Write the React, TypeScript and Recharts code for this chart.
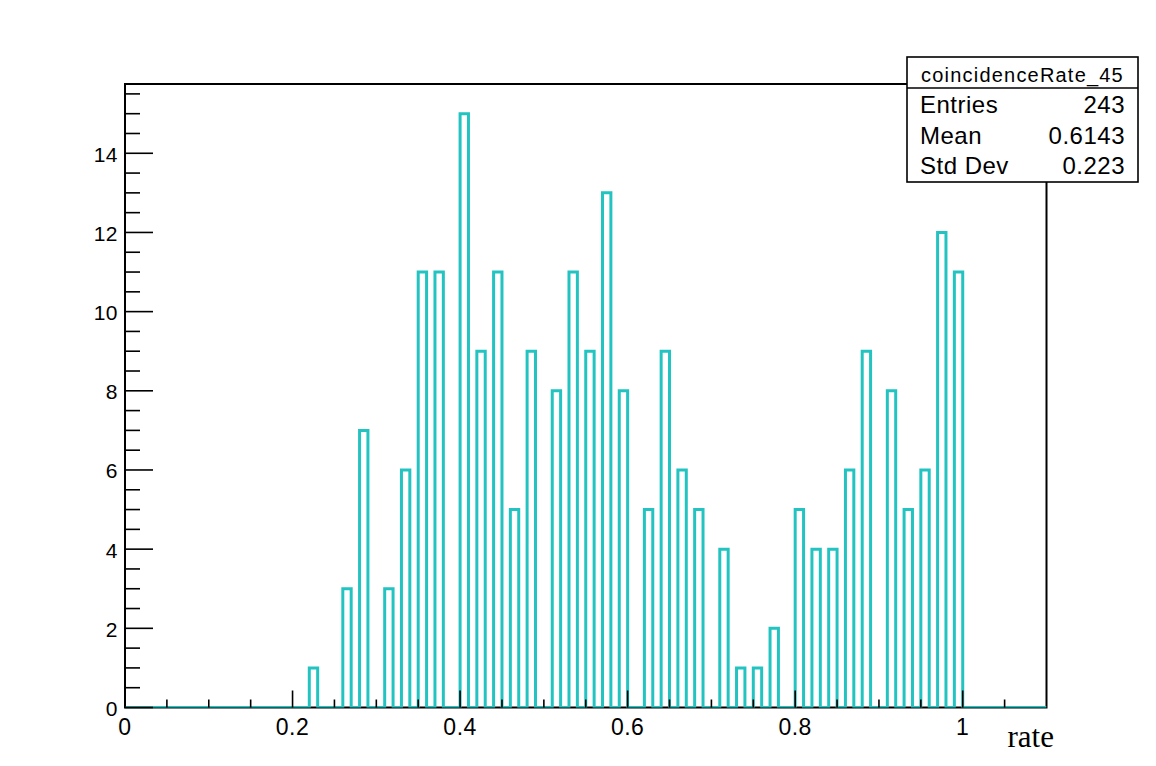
import React from 'react';
import {
  ComposedChart,
  Line,
  XAxis,
  YAxis,
  ReferenceArea
} from 'recharts';

// non-empty bins (low edge) and their counts, bin width 0.01
const binLow = [
  0.22, 0.26, 0.28, 0.31, 0.33, 0.35, 0.37, 0.40, 0.42, 0.44, 0.46, 0.48,
  0.51, 0.53, 0.55, 0.57, 0.59, 0.62, 0.64, 0.66, 0.68, 0.71, 0.73, 0.75,
  0.77, 0.80, 0.82, 0.84, 0.86, 0.88, 0.91, 0.93, 0.95, 0.97, 0.99
];
const binCounts = [
  1, 3, 7, 3, 6, 11, 11, 15, 9, 11, 5, 9,
  8, 11, 9, 13, 8, 5, 9, 6, 5, 4, 1, 1,
  2, 5, 4, 4, 6, 9, 8, 5, 6, 12, 11
];

const xMajorTicks = [0, 0.2, 0.4, 0.6, 0.8, 1];
const xMinorTicks = [0.05, 0.1, 0.15, 0.25, 0.3, 0.35, 0.45, 0.5, 0.55, 0.65, 0.7, 0.75, 0.85, 0.9, 0.95, 1.05];
const yMajorTicks = [0, 2, 4, 6, 8, 10, 12, 14];
const yMinorTicks = [0.5, 1, 1.5, 2.5, 3, 3.5, 4.5, 5, 5.5, 6.5, 7, 7.5, 8.5, 9, 9.5, 10.5, 11, 11.5, 12.5, 13, 13.5, 14.5, 15, 15.5];

const statsTitle = 'coincidenceRate_45';
const statsRows = [
  { label: 'Entries', value: '243' },
  { label: 'Mean', value: '0.6143' },
  { label: 'Std Dev', value: '0.223' }
];

const NBINS = 110;
const XMAX = 1.1;
const YMAX = 15.75;

// full step outline: every bin from 0 to 1.1, empty ones at 0
const histData: { x: number; y: number }[] = [];
for (let k = 0; k < NBINS; k++) {
  const lo = k / 100;
  const idx = binLow.findIndex((b) => Math.abs(b - lo) < 1e-6);
  histData.push({ x: lo, y: idx >= 0 ? binCounts[idx] : 0 });
}
histData.push({ x: XMAX, y: 0 });

const fmt = (v: number) => String(Math.round(v * 100) / 100);
const SANS = "'Liberation Sans', Arial, sans-serif";

const YTick = (props: any) => {
  const { x, y, payload } = props;
  const major = yMajorTicks.includes(payload.value);
  return (
    <g>
      <line x1={x} x2={x + (major ? 28 : 15)} y1={y} y2={y} stroke="#000" strokeWidth={1.6} />
      {major && (
        <text
          x={x - 7}
          y={y + 1}
          textAnchor="end"
          dominantBaseline="central"
          fontFamily={SANS}
          fontSize={21}
          letterSpacing={0.5}
          fill="#000"
        >
          {fmt(payload.value)}
        </text>
      )}
    </g>
  );
};

const XTick = (props: any) => {
  const { x, y, payload } = props;
  const major = xMajorTicks.includes(payload.value);
  return (
    <g>
      <line x1={x} x2={x} y1={y} y2={y - (major ? 17 : 8)} stroke="#000" strokeWidth={1.6} />
      {major && (
        <text
          x={x}
          y={y + 27}
          textAnchor="middle"
          fontFamily={SANS}
          fontSize={23}
          letterSpacing={0.5}
          fill="#000"
        >
          {fmt(payload.value)}
        </text>
      )}
    </g>
  );
};

const StatsBox = () => (
  <svg
    width={1156}
    height={766}
    style={{ position: 'absolute', left: 0, top: 0, pointerEvents: 'none' }}
  >
    <rect x={907} y={57} width={231} height={125} fill="#fff" stroke="#000" strokeWidth={1.6} />
    <line x1={907} x2={1138} y1={88} y2={88} stroke="#000" strokeWidth={1.6} />
    <text
      x={1022.5}
      y={82}
      textAnchor="middle"
      fontFamily={SANS}
      fontSize={20}
      letterSpacing={1.2}
      fill="#000"
    >
      {statsTitle}
    </text>
    {statsRows.map((r, i) => (
      <g key={r.label}>
        <text x={920} y={113 + i * 30.5} fontFamily={SANS} fontSize={24} letterSpacing={0.5} fill="#000">
          {r.label}
        </text>
        <text
          x={1125}
          y={113 + i * 30.5}
          textAnchor="end"
          fontFamily={SANS}
          fontSize={24}
          letterSpacing={0.5}
          fill="#000"
        >
          {r.value}
        </text>
      </g>
    ))}
  </svg>
);

export default function App() {
  const xTicks = [...xMajorTicks, ...xMinorTicks].sort((a, b) => a - b);
  const yTicks = [...yMajorTicks, ...yMinorTicks].sort((a, b) => a - b);
  return (
    <div style={{ position: 'absolute', left: 0, top: 0, width: 1156, height: 766, background: '#fff' }}>
      <ComposedChart
        width={1156}
        height={766}
        data={histData}
        margin={{ top: 84, right: 109.5, bottom: 18.5, left: 65 }}
      >
        <XAxis
          dataKey="x"
          type="number"
          domain={[0, XMAX]}
          ticks={xTicks}
          interval={0}
          tickSize={0}
          tickMargin={0}
          tickLine={false}
          axisLine={false}
          tick={<XTick />}
          height={40}
          allowDataOverflow
        />
        <YAxis
          type="number"
          domain={[0, YMAX]}
          ticks={yTicks}
          interval={0}
          tickSize={0}
          tickMargin={0}
          tickLine={false}
          axisLine={false}
          tick={<YTick />}
          width={60}
          allowDataOverflow
        />
        <ReferenceArea
          x1={0}
          x2={XMAX}
          y1={0}
          y2={YMAX}
          fill="none"
          stroke="#000"
          strokeWidth={2}
          ifOverflow="visible"
        />
        <Line
          dataKey="y"
          type="stepAfter"
          stroke="#22c3c0"
          strokeWidth={3}
          dot={false}
          activeDot={false}
          isAnimationActive={false}
        />
      </ComposedChart>
      <svg width={1156} height={766} style={{ position: 'absolute', left: 0, top: 0, pointerEvents: 'none' }}>
        <text
          x={1054}
          y={747}
          textAnchor="end"
          fontFamily="'Liberation Serif', 'Times New Roman', serif"
          fontSize={31}
          fill="#000"
        >
          rate
        </text>
      </svg>
      <StatsBox />
    </div>
  );
}
